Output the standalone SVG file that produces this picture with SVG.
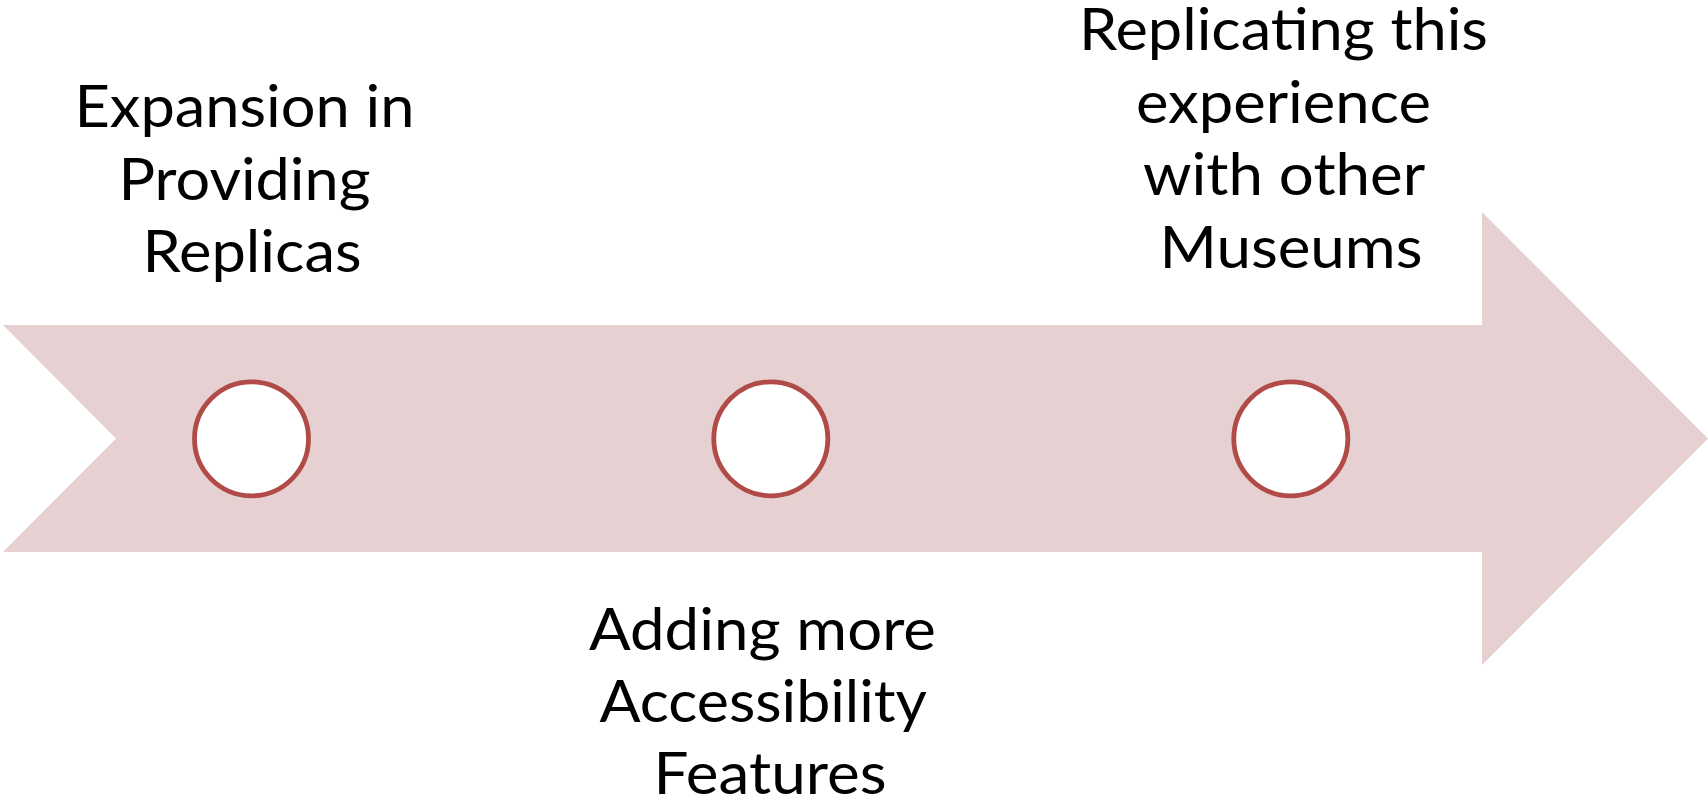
<svg xmlns="http://www.w3.org/2000/svg" width="1708" height="798" viewBox="0 0 1708 798">
  <style>
    .band { fill: #E7D0D1; stroke: none; }
    .dot { fill: #FFFFFF; stroke: #B04B47; stroke-width: 4.8; }
    .lbl { font-family: Lato, "Open Sans", "Liberation Sans", sans-serif; font-size: 59px; fill: #000000; text-anchor: middle; }
  </style>
  <rect x="0" y="0" width="1708" height="798" fill="#FFFFFF"/>
  <g id="timeline-arrow">
    <polygon class="band" points="3,325 1482,325 1482,212 1708,438.5 1482,665 1482,552 3,552 116,438.5"/>
  </g>
  <g id="connectors"></g>
  <g id="node-1">
    <circle class="dot" cx="251.5" cy="438.8" r="57"/>
    <text class="lbl">
      <tspan x="252" y="127" textLength="340" lengthAdjust="spacingAndGlyphs">Expansion in</tspan>
      <tspan x="252" y="199.5" textLength="252" lengthAdjust="spacingAndGlyphs">Providing</tspan>
      <tspan x="252" y="272" textLength="219" lengthAdjust="spacingAndGlyphs">Replicas</tspan>
    </text>
  </g>
  <g id="node-2">
    <circle class="dot" cx="770.8" cy="438.8" r="57"/>
    <text class="lbl">
      <tspan x="770" y="650" textLength="347" lengthAdjust="spacingAndGlyphs">Adding more</tspan>
      <tspan x="770" y="722" textLength="326" lengthAdjust="spacingAndGlyphs">Accessibility</tspan>
      <tspan x="770" y="794" textLength="233" lengthAdjust="spacingAndGlyphs">Features</tspan>
    </text>
  </g>
  <g id="node-3">
    <circle class="dot" cx="1290.8" cy="438.8" r="57"/>
    <text class="lbl">
      <tspan x="1291" y="50" textLength="409" lengthAdjust="spacingAndGlyphs">Replicating this</tspan>
      <tspan x="1291" y="122.5" textLength="295" lengthAdjust="spacingAndGlyphs">experience</tspan>
      <tspan x="1291" y="195" textLength="281" lengthAdjust="spacingAndGlyphs">with other</tspan>
      <tspan x="1291" y="267.5" textLength="263" lengthAdjust="spacingAndGlyphs">Museums</tspan>
    </text>
  </g>
</svg>
